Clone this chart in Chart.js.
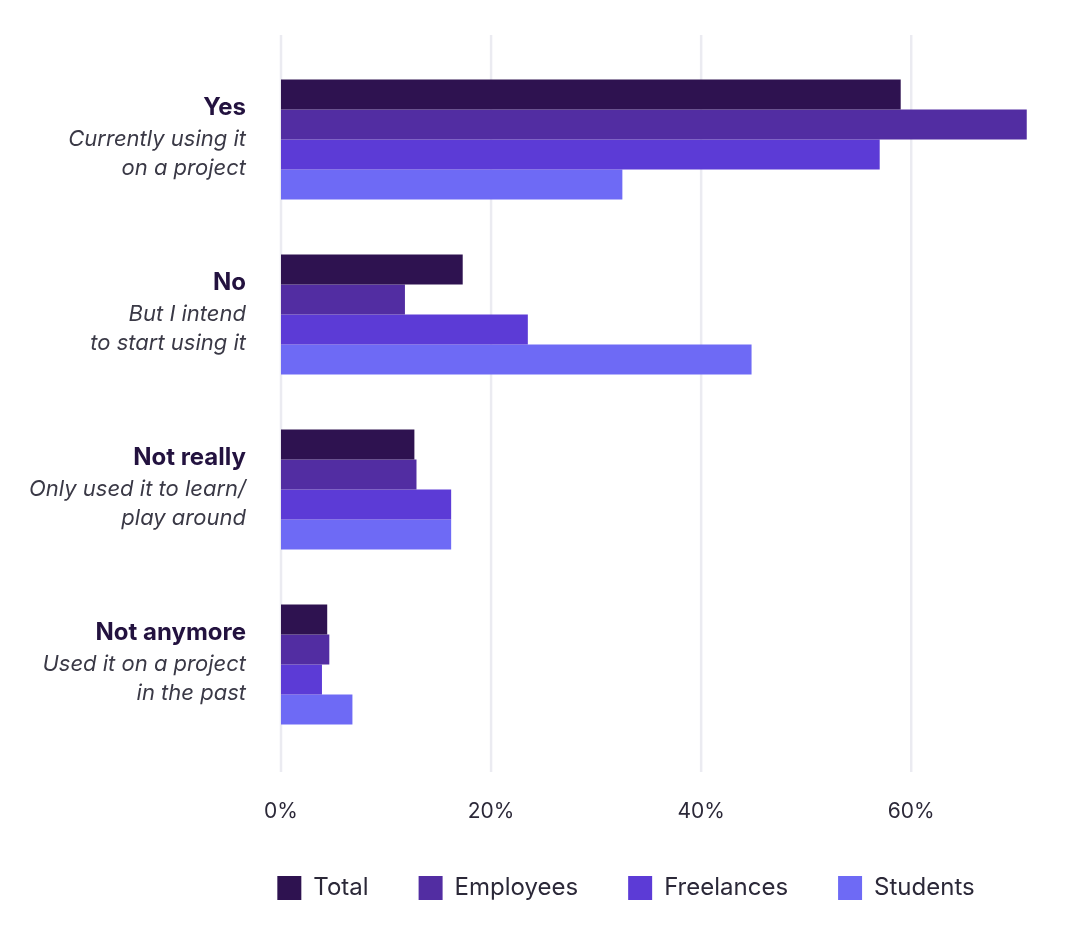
<!DOCTYPE html>
<html>
<head>
<meta charset="utf-8">
<script src="https://cdn.jsdelivr.net/npm/chart.js@4"></script>
<style>
  html, body { margin: 0; padding: 0; background: #fff; }
  #wrap { width: 1080px; height: 937px; }
</style>
</head>
<body>
<div id="wrap"><canvas id="chart"></canvas></div>
<script>
// answers (y categories)
const categories = ["Yes", "No", "Not really", "Not anymore"];
const subtitles = [
  ["Currently using it", "on a project"],
  ["But I intend", "to start using it"],
  ["Only used it to learn/", "play around"],
  ["Used it on a project", "in the past"],
];

// series values, in %
const total = [59, 17.3, 12.7, 4.4];
const employees = [71, 11.8, 12.9, 4.6];
const freelances = [57, 23.5, 16.2, 3.9];
const students = [32.5, 44.8, 16.2, 6.8];

const seriesNames = ["Total", "Employees", "Freelances", "Students"];
const colors = ["#2e1250", "#522da2", "#5c3bd6", "#6e6af5"];
const xTicks = [0, 20, 40, 60];

const FONT = "Inter, 'Noto Sans', sans-serif";

// vertical grid lines, drawn a bit past the chart area like the original
const gridPlugin = {
  id: "extGrid",
  beforeDatasetsDraw(chart) {
    const ctx = chart.ctx;
    const xs = chart.scales.x;
    ctx.save();
    ctx.strokeStyle = "#ebebf1";
    ctx.lineWidth = 2.5;
    xs.ticks.forEach((t) => {
      const x = xs.getPixelForValue(t.value);
      ctx.beginPath();
      ctx.moveTo(x, chart.chartArea.top - 17);
      ctx.lineTo(x, chart.chartArea.bottom + 20);
      ctx.stroke();
    });
    ctx.restore();
  },
};

// category labels: bold title + italic lines, right aligned
const labelPlugin = {
  id: "catLabels",
  afterDraw(chart) {
    const ctx = chart.ctx;
    const ys = chart.scales.y;
    const right = chart.chartArea.left - 35;
    ctx.save();
    ctx.textAlign = "right";
    ctx.textBaseline = "middle";
    categories.forEach((cat, i) => {
      const y = ys.getPixelForValue(i);
      ctx.fillStyle = "#23123f";
      ctx.font = "bold 24px " + FONT;
      ctx.fillText(cat, right, y - 32);
      ctx.fillStyle = "#3a3946";
      ctx.font = "italic 22px " + FONT;
      ctx.fillText(subtitles[i][0], right, y);
      ctx.fillText(subtitles[i][1], right, y + 29);
    });
    ctx.restore();
  },
};

const seriesData = [total, employees, freelances, students];

new Chart(document.getElementById("chart"), {
  type: "bar",
  data: {
    labels: categories,
    datasets: seriesNames.map((name, i) => ({
      label: name,
      data: seriesData[i],
      backgroundColor: colors[i],
      borderWidth: 0,
      categoryPercentage: 0.686,
      barPercentage: 1.0,
    })),
  },
  options: {
    indexAxis: "y",
    responsive: true,
    maintainAspectRatio: false,
    animation: false,
    layout: { padding: { left: 220, right: 48, top: 52, bottom: 27 } },
    scales: {
      x: {
        min: 0,
        max: 71.5,
        border: { display: false },
        grid: { display: false, drawTicks: false },
        afterBuildTicks: (scale) => {
          scale.ticks = xTicks.map((v) => ({ value: v }));
        },
        afterFit: (scale) => {
          scale.height = 74;
        },
        ticks: {
          padding: 47,
          color: "#2b2838",
          font: { family: FONT, size: 21 },
          callback: (v) => v + "%",
        },
      },
      y: {
        border: { display: false },
        grid: { display: false, drawTicks: false },
        ticks: { display: false },
        afterFit: (scale) => {
          scale.width = 61;
        },
      },
    },
    plugins: {
      legend: {
        position: "bottom",
        labels: {
          boxWidth: 24,
          boxHeight: 24,
          padding: 50,
          color: "#2b2838",
          font: { family: FONT, size: 24 },
        },
      },
      tooltip: { enabled: false },
    },
  },
  plugins: [gridPlugin, labelPlugin],
});
</script>
</body>
</html>
